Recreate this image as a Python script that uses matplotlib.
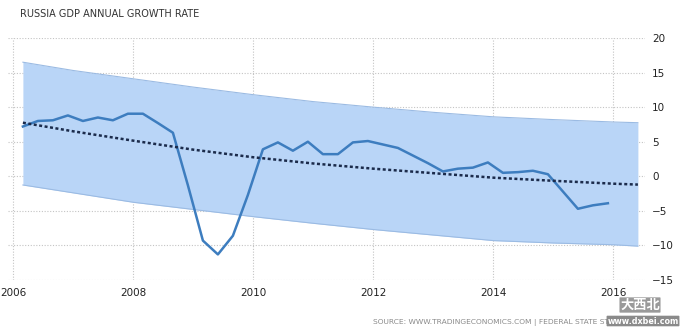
import matplotlib

matplotlib.use("Agg")
import matplotlib.pyplot as plt

# quarterly GDP growth, Q1 2006 .. Q4 2015
gdp_start = 2006.16
gdp_values = [
    7.2, 8.0, 8.1, 8.8, 8.0, 8.5, 8.1, 9.05,
    9.05, 7.7, 6.3, -1.3, -9.3, -11.3, -8.6, -2.7,
    3.9, 4.9, 3.7, 5.0, 3.2, 3.2, 4.9, 5.1,
    4.6, 4.1, 3.0, 1.9, 0.7, 1.1, 1.25, 2.0,
    0.5, 0.6, 0.8, 0.3, -2.2, -4.7, -4.2, -3.9,
]

# trend line and forecast band, read at a few dates
band_x = [2006.16, 2007.0, 2008.0, 2009.0, 2010.0, 2011.0, 2012.0, 2013.0, 2014.0, 2015.0, 2016.0, 2016.41]
trend = [7.75, 6.5, 5.15, 3.85, 2.75, 1.85, 1.1, 0.45, -0.2, -0.65, -1.07, -1.2]
band_upper = [16.5, 15.3, 14.1, 12.9, 11.8, 10.8, 10.0, 9.25, 8.6, 8.2, 7.85, 7.75]
band_lower = [-1.26, -2.4, -3.76, -4.8, -5.84, -6.8, -7.7, -8.5, -9.3, -9.65, -9.9, -10.1]

year_ticks = [2006, 2008, 2010, 2012, 2014, 2016]
value_ticks = [-15, -10, -5, 0, 5, 10, 15, 20]

TITLE = "RUSSIA GDP ANNUAL GROWTH RATE"
SOURCE = "SOURCE: WWW.TRADINGECONOMICS.COM | FEDERAL STATE STATISTICS SERVICE"


def main() -> None:
    fig = plt.figure(figsize=(6.84, 3.33), dpi=100)
    # plot area in pixels: x 8..645, y 38..280
    ax = fig.add_axes([8 / 684, 1 - 280 / 333, 637 / 684, 242 / 333])

    gdp_x = [gdp_start + 0.25 * i for i in range(len(gdp_values))]

    ax.fill_between(band_x, band_lower, band_upper, color="#b9d5f7", linewidth=0, zorder=1)
    ax.plot(band_x, band_upper, color="#9bbbe3", linewidth=0.8, zorder=1.5)
    ax.plot(band_x, band_lower, color="#9bbbe3", linewidth=0.8, zorder=1.5)
    ax.plot(gdp_x, gdp_values, color="#3d7dbf", linewidth=1.8, zorder=3)
    ax.plot(band_x, trend, color="#1b2b4b", linewidth=1.8, linestyle=(0, (1.2, 1.0)), zorder=4)

    ax.set_xlim(2006 + (8 - 13.3) / 60, 2016 + (645 - 613.3) / 60)
    ax.set_ylim(-15, 20)
    ax.set_xticks(year_ticks)
    ax.set_yticks(value_ticks)
    ax.grid(True, color="#c4c4c4", linestyle=(0, (1, 1.5)), linewidth=0.8, zorder=0)
    ax.set_axisbelow(True)
    for spine in ax.spines.values():
        spine.set_visible(False)
    ax.yaxis.tick_right()
    ax.tick_params(axis="both", length=0, labelsize=7.5, colors="#222222")
    ax.tick_params(axis="y", pad=5)
    ax.tick_params(axis="x", pad=6)

    fig.text(20 / 684, 1 - 14 / 333, TITLE, fontsize=7, color="#333333", va="center", ha="left")
    fig.text(373 / 684, 1 - 323 / 333, SOURCE, fontsize=5.4, color="#8a8a8a", va="center", ha="left")

    # watermark
    fig.text(640 / 684, 1 - 305 / 333, "大西北", fontsize=9.5, fontweight="bold", color="#ffffff",
             family=["Noto Sans CJK SC", "DejaVu Sans"], va="center", ha="center",
             bbox=dict(boxstyle="round,pad=0.05", facecolor="#9a9a9a", edgecolor="none"))
    fig.text(643 / 684, 1 - 321 / 333, "www.dxbei.com", fontsize=5.8, fontweight="bold", color="#ffffff",
             va="center", ha="center",
             bbox=dict(boxstyle="round,pad=0.1", facecolor="#8a8a8a", edgecolor="none"))

    fig.savefig("out.png", dpi=100)
    plt.close(fig)


if __name__ == "__main__":
    main()
